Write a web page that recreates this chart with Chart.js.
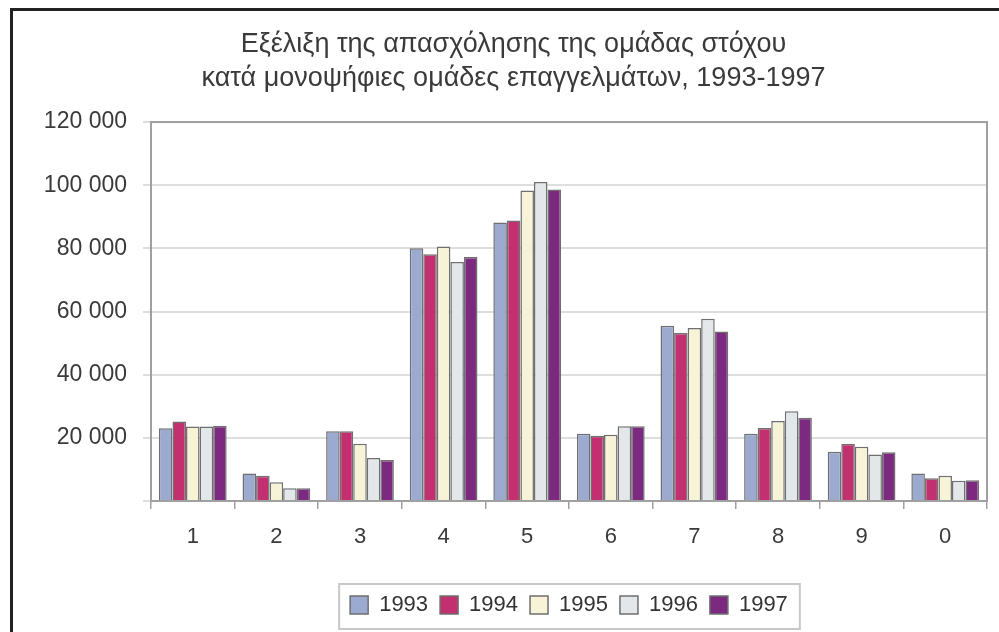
<!DOCTYPE html>
<html>
<head>
<meta charset="utf-8">
<script src="https://cdn.jsdelivr.net/npm/chart.js@4.4.1/dist/chart.umd.min.js"></script>
<style>
  html, body { margin: 0; padding: 0; background: #fff; }
  #wrap { position: relative; width: 999px; height: 632px; overflow: hidden; }
  #frame { position: absolute; left: 10px; top: 8px; right: -5px; bottom: -5px;
           border-top: 3px solid #222; border-left: 3px solid #222; pointer-events: none; }
  canvas { position: absolute; left: 0; top: 0; }
</style>
</head>
<body>
<div id="wrap">
  <canvas id="chart1" width="999" height="632"></canvas>
  <div id="frame"></div>
</div>
<script>
// occupation groups (one-digit codes)
const categories = ["1", "2", "3", "4", "5", "6", "7", "8", "9", "0"];
const years = ["1993", "1994", "1995", "1996", "1997"];

const v1993 = [23000, 8700, 22100, 80000, 88200, 21300, 55500, 21300, 15600, 8700];
const v1994 = [25200, 8000, 22100, 78100, 88800, 20700, 53200, 23100, 18100, 7200];
const v1995 = [23600, 5900, 18100, 80600, 98300, 21000, 54800, 25300, 17200, 8000];
const v1996 = [23600, 4000, 13600, 75700, 101000, 23700, 57700, 28400, 14700, 6400];
const v1997 = [23800, 4000, 13000, 77300, 98600, 23700, 53700, 26400, 15400, 6600];

const yTicks = [0, 20000, 40000, 60000, 80000, 100000, 120000];

const colors = ["#9daad0", "#c2306f", "#f7f3d6", "#e3e7ea", "#7b2a80"];
const series = [v1993, v1994, v1995, v1996, v1997];

const FONT = "'Liberation Sans', Arial, sans-serif";

const data = {
  labels: categories,
  datasets: years.map(function (y, i) {
    return {
      label: y,
      data: series[i],
      backgroundColor: colors[i],
      borderColor: "#6f6f6f",
      borderWidth: 1.5,
      barPercentage: 1.0,
      categoryPercentage: 0.81,
    };
  }),
};

// grey box round the plot area and round the legend
Chart.register({
  id: "boxes",
  afterDraw: function (chart) {
    const ctx = chart.ctx;
    const a = chart.chartArea;
    ctx.save();
    ctx.strokeStyle = "#a0a0a0";
    ctx.lineWidth = 2;
    ctx.strokeRect(a.left, a.top, a.right - a.left, a.bottom - a.top);
    const lg = chart.legend;
    if (lg && lg.legendItems && lg.legendHitBoxes.length) {
      const hb = lg.legendHitBoxes;
      const x0 = hb[0].left - 11;
      const last = hb[hb.length - 1];
      const x1 = last.left + last.width + 12;
      const y0 = hb[0].top - 10;
      const y1 = hb[0].top + hb[0].height + 13;
      ctx.strokeStyle = "#c8c8c8";
      ctx.lineWidth = 2;
      ctx.strokeRect(x0, y0, x1 - x0, y1 - y0);
    }
    ctx.restore();
  },
});

const options = {
  responsive: false,
  animation: false,
  layout: { padding: { left: 40, right: 12, top: 9, bottom: 6 } },
  plugins: {
    title: {
      display: true,
      text: [
        "Εξέλιξη της απασχόλησης της ομάδας στόχου",
        "κατά μονοψήφιες ομάδες επαγγελμάτων, 1993-1997",
      ],
      color: "#3a3a3a",
      font: { family: FONT, size: 27, weight: "normal", lineHeight: 1.26 },
      padding: { top: 19, bottom: 26 },
    },
    legend: {
      position: "bottom",
      fullSize: false,
      labels: {
        color: "#333",
        font: { family: FONT, size: 22 },
        boxWidth: 18,
        boxHeight: 18,
        padding: 12,
        useBorderRadius: false,
      },
    },
    tooltip: { enabled: false },
  },
  scales: {
    x: {
      grid: { display: true, drawOnChartArea: false, drawTicks: true, tickLength: 8, offset: true, color: "#a0a0a0", lineWidth: 1.5 },
      border: { display: true, color: "#a0a0a0", width: 2 },
      ticks: { color: "#3a3a3a", font: { family: FONT, size: 22 }, padding: 15 },
      afterFit: function (scale) { scale.height = 81; },
    },
    y: {
      min: 0,
      max: 120000,
      afterBuildTicks: function (scale) {
        scale.ticks = yTicks.map(function (v) { return { value: v }; });
      },
      grid: { color: "#dedede", lineWidth: 2, tickLength: 8, drawTicks: true },
      border: { display: true, color: "#a0a0a0", width: 2 },
      ticks: {
        color: "#3a3a3a",
        font: { family: FONT, size: 23 },
        padding: 16,
        callback: function (v) {
          if (v === 0) return "";
          return String(v).replace(/\B(?=(\d{3})+(?!\d))/g, " ");
        },
      },
      afterFit: function (scale) { scale.width = 111; },
    },
  },
};

const chart = new Chart(document.getElementById("chart1"), {
  type: "bar",
  data: data,
  options: options,
});
</script>
</body>
</html>
